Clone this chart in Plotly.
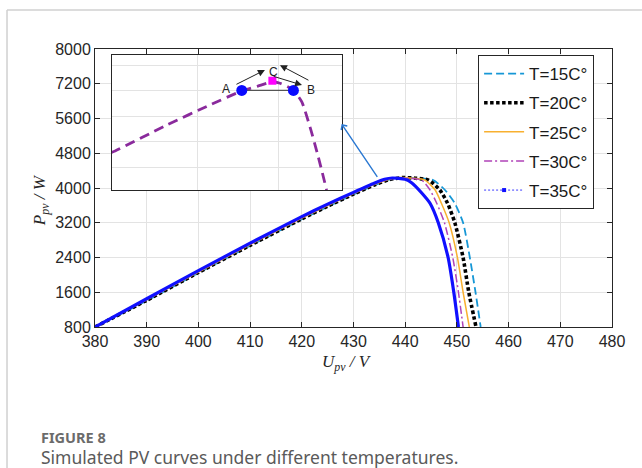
import plotly.graph_objects as go

# ---------------- data ----------------
labels = ["T=15C°", "T=20C°", "T=25C°", "T=30C°", "T=35C°"]

u_15 = [380, 390, 400, 410, 420, 425, 430, 434, 437, 440, 442.5, 445.4, 447.7, 449.6, 451.2, 452.5, 453.6, 454.6]
p_15 = [800, 1405, 2045, 2670, 3280, 3570, 3850, 4060, 4190, 4240, 4225, 4183, 3954, 3648, 3200, 2400, 1600, 800]

u_20 = [380, 390, 400, 410, 420, 425, 430, 434, 437, 439.5, 442, 444.5, 446.7, 448.2, 449.6, 451.2, 452.3, 453.7]
p_20 = [800, 1415, 2055, 2680, 3290, 3580, 3860, 4070, 4195, 4240, 4225, 4183, 3954, 3648, 3200, 2400, 1600, 800]

u_25 = [380, 390, 400, 410, 420, 425, 430, 434, 437, 439, 441.5, 443.8, 445.8, 447.0, 448.5, 450.1, 451.2, 452.4]
p_25 = [800, 1425, 2065, 2695, 3305, 3595, 3870, 4080, 4200, 4240, 4225, 4183, 3954, 3648, 3200, 2400, 1600, 800]

u_30 = [380, 390, 400, 410, 420, 425, 430, 434, 436.5, 438.5, 441, 443.2, 444.8, 446.1, 447.6, 449.2, 450.3, 451.2]
p_30 = [800, 1435, 2080, 2710, 3320, 3610, 3885, 4095, 4195, 4235, 4220, 4183, 3954, 3648, 3200, 2400, 1600, 800]

u_35 = [380, 390, 400, 410, 420, 425, 430, 434, 436, 437.5, 440, 441.3, 443.2, 444.8, 446.4, 448.3, 449.4, 450.3]
p_35 = [800, 1450, 2100, 2730, 3340, 3630, 3900, 4110, 4200, 4230, 4200, 4115, 3885, 3648, 3200, 2400, 1600, 800]

# inset (zoom of the T=30C° curve near the MPP)
inset_u = [429.7, 429.94, 433.13, 435.80, 437.65, 438.76, 439.63, 440.12, 440.92, 441.46, 441.97, 442.48, 443.0]
inset_p = [3757, 3763, 3865, 3944, 3996, 4018, 4034, 4029, 4003, 3957, 3858, 3741, 3610]
ab_u = [437.76, 440.95]      # operating points A and B
ab_p = [4001, 4001]
c_u = [439.65]               # point C (MPP)
c_p = [4039]

x_ticks = [380, 390, 400, 410, 420, 430, 440, 450, 460, 470, 480]
y_tickvals = [800, 1600, 2400, 3200, 4000, 4800, 5600, 6400, 7200]
y_ticktext = ["800", "1600", "2400", "3200", "4000", "4800", "5600", "7200", "8000"]

# ---------------- figure ----------------
fig = go.Figure()

styles = [
    dict(color="#1697d6", width=1.8, dash="8px,4px"),
    dict(color="#000000", width=3.6, dash="3.5px,2.5px"),
    dict(color="#f8b030", width=1.5, dash="solid"),
    dict(color="#b043b8", width=1.5, dash="8px,3px,2px,3px"),
]
series = [(u_15, p_15), (u_20, p_20), (u_25, p_25), (u_30, p_30)]
for i, ((u, p), st) in enumerate(zip(series, styles)):
    fig.add_trace(go.Scatter(x=u, y=p, mode="lines", name=labels[i], line=dict(shape="spline", smoothing=0.6, **st),
                             legendgroup=str(i), xaxis="x", yaxis="y"))

# T=35C°: dense dotted-with-markers curve, appears as thick blue line
fig.add_trace(go.Scatter(x=u_35, y=p_35, mode="lines", showlegend=False,
                         line=dict(color="#1010ff", width=3.2, shape="spline", smoothing=0.6), xaxis="x", yaxis="y"))
fig.add_trace(go.Scatter(x=[None], y=[None], mode="lines+markers", name=labels[4], legendgroup="4",
                         line=dict(color="#3a3aff", width=1, dash="2px,2px"),
                         marker=dict(color="#1010ff", size=4, symbol="square"), xaxis="x", yaxis="y"))

# inset
fig.add_trace(go.Scatter(x=inset_u, y=inset_p, mode="lines", showlegend=False,
                         line=dict(color="#8a2a9c", width=2.8, dash="10px,6px", shape="spline", smoothing=0.6),
                         xaxis="x2", yaxis="y2"))
fig.add_trace(go.Scatter(x=ab_u, y=ab_p, mode="lines+markers", showlegend=False,
                         line=dict(color="#555555", width=1.2),
                         marker=dict(color="#0a0aff", size=11, symbol="circle"),
                         xaxis="x2", yaxis="y2"))
fig.add_trace(go.Scatter(x=c_u, y=c_p, mode="markers", showlegend=False,
                         marker=dict(color="#ff00ff", size=8, symbol="square"),
                         xaxis="x2", yaxis="y2"))

axis_common = dict(showline=True, linecolor="#262626", linewidth=1, mirror="ticks",
                   ticks="inside", ticklen=5, tickcolor="#262626",
                   showgrid=True, gridcolor="#e3e3e3", gridwidth=1, zeroline=False,
                   tickfont=dict(family="Liberation Sans", size=16, color="#262626"))

fig.update_layout(
    width=642, height=468,
    margin=dict(l=95, r=30, t=49, b=141),
    paper_bgcolor="white", plot_bgcolor="white",
    xaxis=dict(range=[380, 480], tickvals=x_ticks, domain=[0, 1], **axis_common),
    yaxis=dict(range=[800, 7200], tickvals=y_tickvals, ticktext=y_ticktext, domain=[0, 1], **axis_common),
    xaxis2=dict(domain=[0.0329, 0.4778], anchor="y2", range=[429.75, 443.95], tickvals=[435, 440],
                showticklabels=False, ticks="", showline=True, mirror=True, linecolor="#262626",
                showgrid=True, gridcolor="#e3e3e3", zeroline=False),
    yaxis2=dict(domain=[0.4928, 0.9784], anchor="x2", range=[3610, 4140], tickvals=[3700, 3800, 3900, 4000, 4100],
                showticklabels=False, ticks="", showline=True, mirror=True, linecolor="#262626",
                showgrid=True, gridcolor="#e3e3e3", zeroline=False),
    showlegend=True,
    legend=dict(x=0.741, y=0.978, xanchor="left", yanchor="top", bgcolor="white",
                bordercolor="#262626", borderwidth=1, traceorder="grouped", tracegroupgap=4,
                font=dict(family="Liberation Sans", size=17, color="#1a1a1a"), itemwidth=40),
)

ann = []
# axis titles
ann.append(dict(xref="paper", yref="paper", x=0.487, y=-0.13, xanchor="center", yanchor="middle", showarrow=False,
                text="<i>U</i><sub><i>pv</i></sub><i> / V</i>",
                font=dict(family="Liberation Serif", size=17, color="#262626")))
ann.append(dict(xref="paper", yref="paper", x=-0.104, y=0.457, xanchor="center", yanchor="middle", showarrow=False,
                textangle=-90, text="<i>P</i><sub><i>pv</i></sub><i> / W</i>",
                font=dict(family="Liberation Serif", size=17, color="#262626")))
# blue pointer arrow
ann.append(dict(xref="x", yref="y", axref="x", ayref="y", x=427.7, y=5473, ax=434.8, ay=4223,
                showarrow=True, arrowhead=4, arrowsize=1, arrowwidth=1.4, arrowcolor="#2a78d2", text=""))
# inset labels and arrows
for t, xx, yy in [("A", 436.79, 4005), ("B", 442.03, 4003), ("C", 439.71, 4074)]:
    ann.append(dict(xref="x2", yref="y2", x=xx, y=yy, text=t, showarrow=False,
                    font=dict(family="Liberation Sans", size=12, color="#222222")))
for (x0, y0, x1, y1) in [(437.34, 4022, 439.19, 4081), (441.97, 4038, 440.12, 4100), (439.63, 4058, 441.48, 4022)]:
    ann.append(dict(xref="x2", yref="y2", axref="x2", ayref="y2", x=x1, y=y1, ax=x0, ay=y0, text="",
                    showarrow=True, arrowhead=2, arrowsize=1.4, arrowwidth=1, arrowcolor="#222222"))
# caption
ann.append(dict(xref="paper", yref="paper", x=-0.1083, y=-0.396, xanchor="left", yanchor="middle", showarrow=False,
                text="<b>FIGURE 8</b>", font=dict(family="Noto Sans", size=14.5, color="#6b6b6b")))
ann.append(dict(xref="paper", yref="paper", x=-0.1083, y=-0.467, xanchor="left", yanchor="middle", showarrow=False,
                text="Simulated PV curves under different temperatures.",
                font=dict(family="Noto Sans", size=17.5, color="#5a5a5a")))
fig.update_layout(annotations=ann)

# light frame of the figure panel
fig.update_layout(shapes=[
    dict(type="line", xref="paper", yref="paper", x0=-0.1702, x1=-0.1702, y0=1.1403, y1=-0.6, line=dict(color="#d0d0d0", width=1.5)),
    dict(type="line", xref="paper", yref="paper", x0=-0.1702, x1=1.1, y0=1.1403, y1=1.1403, line=dict(color="#d0d0d0", width=1.5)),
])

fig.write_html("out.html")
